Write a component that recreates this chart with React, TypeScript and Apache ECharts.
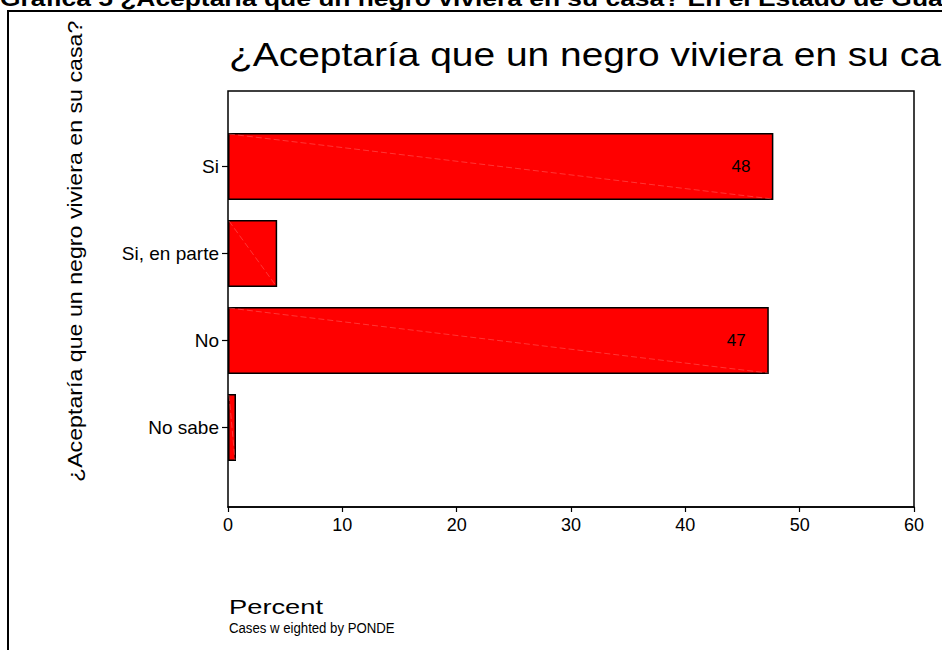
import React, { useEffect, useRef } from "react";
import * as echarts from "echarts";

const categories = ["Si", "Si, en parte", "No", "No sabe"];
const percentValues = [47.7, 4.3, 47.3, 0.7];
const labelShown = [true, false, true, false];
const xMin = 0;
const xMax = 60;
const xInterval = 10;

const headerText = "Gráfica 5 ¿Aceptaría que un negro viviera en su casa? En el Estado de Gua";
const chartTitle = "¿Aceptaría que un negro viviera en su casa?";
const yAxisTitle = "¿Aceptaría que un negro viviera en su casa?";
const xAxisTitle = "Percent";
const footnote = "Cases w eighted by PONDE";

const FONT = "'Liberation Sans', Arial, sans-serif";

export default function App() {
  const ref = useRef<HTMLDivElement>(null);

  useEffect(() => {
    if (!ref.current) return;
    const chart = echarts.init(ref.current, null, { renderer: "svg" });

    const barData = percentValues.map((v, i) => ({
      value: v,
      label: { show: labelShown[i] },
    }));

    const diagData = percentValues.map((v, i) => [v, i]);

    chart.setOption({
      animation: false,
      backgroundColor: "#ffffff",
      textStyle: { fontFamily: FONT },
      grid: [
        {
          left: 228,
          right: 28,
          top: 91,
          bottom: 143,
          show: true,
          borderColor: "#000",
          borderWidth: 1.5,
          backgroundColor: "transparent",
        },
        {
          left: 228,
          right: 28,
          top: 123,
          bottom: 179,
        },
      ],
      xAxis: [
        {
          gridIndex: 0,
          type: "value",
          min: xMin,
          max: xMax,
          interval: xInterval,
          splitLine: { show: false },
          axisLine: { show: true, lineStyle: { color: "#000", width: 1.5 } },
          axisTick: { show: true, length: 5, lineStyle: { color: "#000", width: 1.2 } },
          axisLabel: { color: "#000", fontSize: 18, margin: 9, fontFamily: FONT },
        },
        {
          gridIndex: 1,
          type: "value",
          min: xMin,
          max: xMax,
          show: false,
          splitLine: { show: false },
        },
      ],
      yAxis: [
        {
          gridIndex: 0,
          type: "value",
          show: false,
          splitLine: { show: false },
        },
        {
          gridIndex: 1,
          type: "category",
          data: categories,
          inverse: true,
          axisLine: { show: false },
          axisTick: {
            show: true,
            alignWithLabel: true,
            length: 6,
            lineStyle: { color: "#000", width: 1.2 },
          },
          axisLabel: { color: "#000", fontSize: 19, margin: 9, fontFamily: FONT },
          splitLine: { show: false },
        },
      ],
      series: [
        {
          type: "bar",
          xAxisIndex: 1,
          yAxisIndex: 1,
          data: barData,
          barCategoryGap: "23%",
          itemStyle: { color: "#ff0000", borderColor: "#000", borderWidth: 1.5 },
          label: {
            position: "insideRight",
            distance: 23,
            color: "#000",
            fontSize: 17,
            fontFamily: FONT,
            formatter: (p: any) => String(Math.round(p.value)),
          },
        },
        {
          type: "custom",
          xAxisIndex: 1,
          yAxisIndex: 1,
          data: diagData,
          encode: { x: 0, y: 1 },
          z: 5,
          silent: true,
          renderItem: (params: any, api: any) => {
            const v = api.value(0);
            const idx = api.value(1);
            const start = api.coord([0, idx]);
            const end = api.coord([v, idx]);
            const h = api.size([0, 1])[1] * 0.77;
            return {
              type: "line",
              shape: {
                x1: start[0] + 1,
                y1: start[1] - h / 2 + 1,
                x2: end[0] - 1,
                y2: end[1] + h / 2 - 1,
              },
              style: { stroke: "#ff8080", lineWidth: 0.6, lineDash: [6, 3], opacity: 0.7 },
            };
          },
        },
      ],
      graphic: [
        {
          type: "rect",
          shape: { x: 8, y: 11, width: 1200, height: 1200 },
          style: { fill: "none", stroke: "#000", lineWidth: 2 },
          silent: true,
        },
        {
          type: "text",
          x: 0,
          y: 9,
          scaleX: 1.2,
          style: {
            text: headerText,
            font: "bold 22px 'Liberation Sans', Arial, sans-serif",
            fill: "#000",
            verticalAlign: "bottom",
            align: "left",
          },
        },
        {
          type: "text",
          x: 229,
          y: 38,
          scaleX: 1.18,
          style: {
            text: chartTitle,
            font: "33px 'Liberation Sans', Arial, sans-serif",
            fill: "#000",
            verticalAlign: "top",
            align: "left",
          },
        },
        {
          type: "text",
          x: 75,
          y: 482,
          rotation: Math.PI / 2,
          scaleX: 1.16,
          style: {
            text: yAxisTitle,
            font: "20px 'Liberation Sans', Arial, sans-serif",
            fill: "#000",
            verticalAlign: "middle",
            align: "left",
          },
        },
        {
          type: "text",
          x: 229,
          y: 607,
          scaleX: 1.3,
          style: {
            text: xAxisTitle,
            font: "21px 'Liberation Sans', Arial, sans-serif",
            fill: "#000",
            verticalAlign: "middle",
            align: "left",
          },
        },
        {
          type: "text",
          x: 229,
          y: 628,
          scaleX: 0.88,
          style: {
            text: footnote,
            font: "15px 'Liberation Sans', Arial, sans-serif",
            fill: "#000",
            verticalAlign: "middle",
            align: "left",
          },
        },
      ],
    });

    return () => {
      chart.dispose();
    };
  }, []);

  return (
    <div
      ref={ref}
      style={{ position: "fixed", left: 0, top: 0, width: 942, height: 650, background: "#fff" }}
    />
  );
}
